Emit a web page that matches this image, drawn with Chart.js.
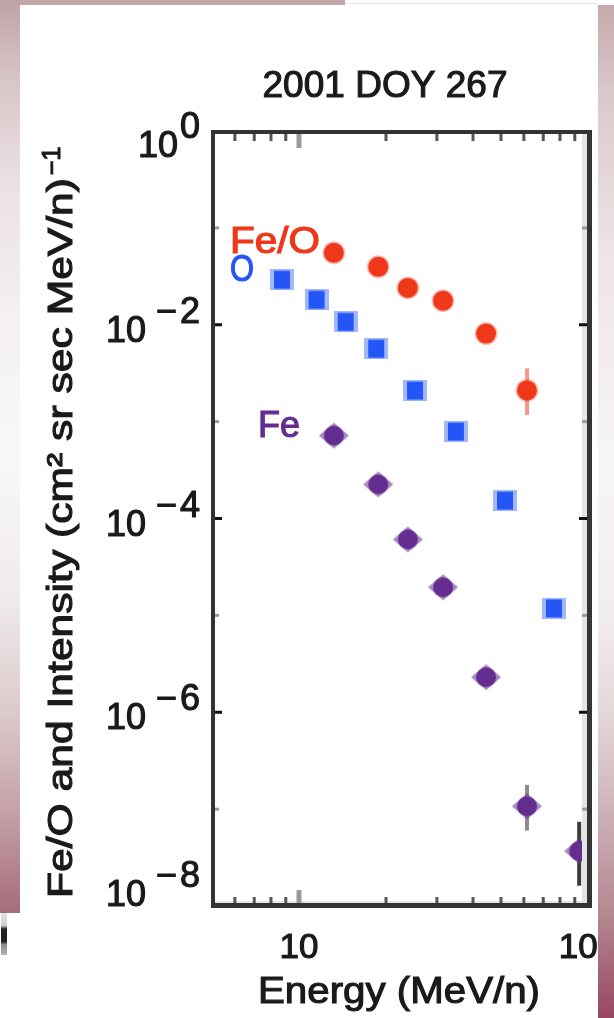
<!DOCTYPE html>
<html>
<head>
<meta charset="utf-8">
<title>2001 DOY 267</title>
<script src="https://cdn.jsdelivr.net/npm/chart.js@4.4.1/dist/chart.umd.min.js"></script>
<style>
  html, body { margin: 0; padding: 0; background: #fff; }
  #wrap { position: relative; width: 614px; height: 1018px; overflow: hidden; background: #fff; }
  #wrap canvas { position: absolute; left: 0; top: 0; }
  .edge { position: absolute; z-index: 2; }
  #edgeTop { left: 0; top: 0; width: 345px; height: 5px; background: #c2a6aa; }
  #edgeTopLine { left: 345px; top: 3px; width: 253px; height: 1px; background: #e6e6e6; }
  #edgeLeft {
    left: 0; top: 0; width: 20px; height: 913px;
    background: linear-gradient(to bottom, #bfa2a7 0%, #d6c3c6 8%, #ebe1e2 20%, #f5f1f1 35%,
      #f9f7f7 50%, #f1ecec 65%, #dccacc 78%, #c29ca4 90%, #a66c7a 100%);
  }
  #edgeRight {
    left: 598px; top: 5px; width: 16px; height: 1013px;
    background: linear-gradient(to bottom, #c6a9ad 0%, #dccbcd 10%, #eee5e6 25%, #f8f5f5 45%,
      #f3eeee 60%, #e4d7d8 70%, #cdb0b5 80%, #b38690 90%, #984760 100%);
  }
  #speck {
    left: 1px; top: 913px; width: 6px; height: 42px;
    background: linear-gradient(to bottom, #e2e2e2 0%, #cfcfcf 30%, #222 38%, #222 68%, #8a8a8a 75%, #b5b5b5 100%);
  }
</style>
</head>
<body>
<div id="wrap">
  <canvas id="spectrum" width="614" height="1018"></canvas>
  <div class="edge" id="edgeTop"></div>
  <div class="edge" id="edgeTopLine"></div>
  <div class="edge" id="edgeLeft"></div>
  <div class="edge" id="edgeRight"></div>
  <div class="edge" id="speck"></div>
</div>
<script>
// Values (energy in MeV/n)
const energyFeO = [13.2, 18.8, 23.8, 31.5, 44.4, 61.5];
const ratioFeO = [0.0552, 0.0396, 0.024, 0.0177, 0.0081, 0.0021];
const feoErrLow = [null, null, null, null, null, 1.17e-3];
const feoErrHigh = [null, null, null, null, null, 3.55e-3];

const energyO = [8.73, 11.5, 14.5, 18.5, 25.2, 34.9, 51.6, 76.2];
const intensityO = [0.0291, 0.0181, 0.0107, 0.00566, 0.00209, 7.89e-4, 1.53e-4, 1.18e-5];

const energyFe = [13.2, 18.8, 23.8, 31.5, 44.4, 61.5, 93.2];
const intensityFe = [7.18e-4, 2.25e-4, 6.08e-5, 1.95e-5, 2.30e-6, 1.07e-7, 3.69e-8];
const feErrLow = [null, null, null, null, null, 6.0e-8, 1.62e-8];
const feErrHigh = [null, null, null, null, null, 1.78e-7, 7.4e-8];

// Axis ticks
const yDecades = [0, -1, -2, -3, -4, -5, -6, -7, -8];
const yLabelExps = [0, -2, -4, -6, -8];
const xMinorTicks = [6, 7, 8, 9, 20, 30, 40, 50, 60, 70, 80, 90];
const xMajorTicks = [10];
const xTickLabels = [10, 100];

const titleText = '2001 DOY 267';
const xTitle = 'Energy (MeV/n)';
const yTitle = 'Fe/O and Intensity (cm\u00b2 sr sec MeV/n)';
const yTitleExp = '\u22121';

const FONT = '"Liberation Sans", Arial, Helvetica, sans-serif';
const INK = '#1a1a1a';
const RED = '#ef3719';
const BLUE = '#2356f5';
const PURPLE = '#652d90';

function toPoints(xs, ys) {
    return xs.map((x, i) => ({ x: x, y: ys[i] }));
}

// O marker: square with soft light fringes
function makeSquareMarker() {
    const c = document.createElement('canvas');
    c.width = 24; c.height = 21;
    const g = c.getContext('2d');
    g.fillStyle = '#a3b8fa';
    g.fillRect(0, 0, 24, 21);
    g.fillStyle = BLUE;
    g.fillRect(4, 1.5, 16, 18);
    return c;
}

// Fe marker: dot with short pointed arms
function makeFeMarker() {
    const c = document.createElement('canvas');
    c.width = 32; c.height = 30;
    const g = c.getContext('2d');
    g.fillStyle = 'rgba(110, 60, 150, 0.6)';
    g.beginPath();
    g.moveTo(1, 15); g.lineTo(16, 2); g.lineTo(31, 15); g.lineTo(16, 28);
    g.closePath();
    g.fill();
    g.fillStyle = PURPLE;
    g.beginPath();
    g.arc(16, 15, 10, 0, Math.PI * 2);
    g.fill();
    return c;
}

// Heavier text: fill plus a thin stroke in the same colour
function label(ctx, text, x, y) {
    ctx.strokeStyle = ctx.fillStyle;
    ctx.lineWidth = 1.1;
    ctx.fillText(text, x, y);
    ctx.strokeText(text, x, y);
}

// Draw text squeezed/stretched to a given width
function fitText(ctx, text, x, y, width, align) {
    const w = ctx.measureText(text).width;
    ctx.save();
    ctx.translate(x, y);
    ctx.scale(width / w, 1);
    ctx.textAlign = align || 'left';
    label(ctx, text, 0, 0);
    ctx.restore();
}

const errorBars = [
    { xs: energyFeO, lo: feoErrLow, hi: feoErrHigh, colors: [null, null, null, null, null, '#f59a86'] },
    { xs: energyFe, lo: feErrLow, hi: feErrHigh, colors: [null, null, null, null, null, '#8c8c8c', '#3c3c3c'] }
];

const framePlugin = {
    id: 'frame',
    beforeDatasetsDraw(chart) {
        const ctx = chart.ctx;
        const x = chart.scales.x, y = chart.scales.y;
        ctx.save();
        ctx.lineWidth = 4;
        errorBars.forEach(set => {
            set.xs.forEach((e, i) => {
                if (set.lo[i] == null) return;
                const px = x.getPixelForValue(e);
                ctx.strokeStyle = set.colors[i];
                ctx.beginPath();
                ctx.moveTo(px, y.getPixelForValue(set.hi[i]));
                ctx.lineTo(px, y.getPixelForValue(set.lo[i]));
                ctx.stroke();
            });
        });
        ctx.restore();
    },
    afterDraw(chart) {
        const ctx = chart.ctx;
        const a = chart.chartArea;
        const x = chart.scales.x, y = chart.scales.y;
        ctx.save();

        // light inner shading along right and bottom edges
        ctx.fillStyle = '#e4e4e4';
        ctx.fillRect(a.right - 6, a.top, 5, a.bottom - a.top);
        ctx.fillRect(a.left, a.bottom - 5, a.right - a.left, 3);

        // y ticks, both sides, pointing inward
        yDecades.forEach(d => {
            if (d === 0 || d === -8) return;
            const py = y.getPixelForValue(Math.pow(10, d));
            const major = d % 2 === 0;
            const len = major ? 8 : 5;
            ctx.fillStyle = major ? '#111' : '#9a9a9a';
            ctx.fillRect(a.left + 2, py - 1.5, len, 3);
            ctx.fillRect(a.right - 1 - len, py - 1.5, len, 3);
        });

        // x ticks, top and bottom
        xMinorTicks.forEach(v => {
            const px = x.getPixelForValue(v);
            ctx.fillStyle = '#555';
            ctx.fillRect(px - 1.5, a.bottom - 9, 3, 7);
            ctx.fillRect(px - 1.5, a.top + 3, 3, 7);
        });
        xMajorTicks.forEach(v => {
            const px = x.getPixelForValue(v);
            ctx.fillStyle = '#9a9a9a';
            ctx.fillRect(px - 2.5, a.bottom - 16, 5, 14);
            ctx.fillRect(px - 2.5, a.top + 3, 5, 14);
        });

        // frame
        ctx.fillStyle = '#333';
        ctx.fillRect(a.left - 1, a.top - 1, 4, a.bottom - a.top + 3);
        ctx.fillRect(a.left - 1, a.top - 1, a.right - a.left + 4, 4);
        ctx.fillRect(a.right - 1, a.top - 1, 5, a.bottom - a.top + 3);
        ctx.fillRect(a.left - 1, a.bottom - 3, a.right - a.left + 4, 5);

        ctx.fillStyle = INK;
        ctx.textBaseline = 'alphabetic';

        // y tick labels: 10 with raised exponent
        ctx.font = '36px ' + FONT;
        yLabelExps.forEach(d => {
            let ty = y.getPixelForValue(Math.pow(10, d));
            ty = Math.min(Math.max(ty, a.top + 9), a.bottom - 17);
            ctx.textAlign = 'right';
            label(ctx, String(Math.abs(d)), 200, ty - 2);
            if (d < 0) {
                label(ctx, '\u2212', 177, ty - 2);
                label(ctx, '10', 146, ty + 17);
            } else {
                label(ctx, '10', 178, ty + 17);
            }
        });

        // x tick labels
        ctx.font = '35px ' + FONT;
        ctx.textAlign = 'center';
        xTickLabels.forEach(v => {
            label(ctx, String(v), x.getPixelForValue(v), 958);
        });

        // title and axis titles
        ctx.font = '36px ' + FONT;
        fitText(ctx, titleText, 385, 97, 245, 'center');
        ctx.font = '37px ' + FONT;
        fitText(ctx, xTitle, 399, 1003, 282, 'center');

        ctx.save();
        ctx.translate(72, 898);
        ctx.rotate(-Math.PI / 2);
        ctx.font = '35px ' + FONT;
        fitText(ctx, yTitle, 0, 0, 720, 'left');
        ctx.font = '25px ' + FONT;
        ctx.textAlign = 'left';
        label(ctx, yTitleExp, 723, -12);
        ctx.restore();

        // series labels inside the plot
        ctx.font = '36px ' + FONT;
        ctx.fillStyle = RED;
        fitText(ctx, 'Fe/O', 230, 253, 90, 'left');
        ctx.fillStyle = BLUE;
        fitText(ctx, 'O', 230, 281, 24, 'left');
        ctx.fillStyle = PURPLE;
        fitText(ctx, 'Fe', 258, 437, 42, 'left');

        ctx.restore();
    }
};

new Chart(document.getElementById('spectrum').getContext('2d'), {
    type: 'scatter',
    data: {
        datasets: [
            {
                label: 'Fe/O',
                data: toPoints(energyFeO, ratioFeO),
                pointStyle: 'circle',
                pointRadius: 10,
                backgroundColor: RED,
                borderColor: 'rgba(239, 70, 40, 0.35)',
                borderWidth: 3
            },
            {
                label: 'O',
                data: toPoints(energyO, intensityO),
                pointStyle: makeSquareMarker(),
                pointRadius: 12
            },
            {
                label: 'Fe',
                data: toPoints(energyFe, intensityFe),
                pointStyle: makeFeMarker(),
                pointRadius: 12
            }
        ]
    },
    options: {
        responsive: false,
        animation: false,
        events: [],
        layout: { padding: { left: 212, right: 26, top: 131, bottom: 112 } },
        scales: {
            x: { type: 'logarithmic', min: 5, max: 100, display: false },
            y: { type: 'logarithmic', min: 1e-8, max: 1, display: false }
        },
        plugins: {
            legend: { display: false },
            tooltip: { enabled: false }
        }
    },
    plugins: [framePlugin]
});
</script>
</body>
</html>
